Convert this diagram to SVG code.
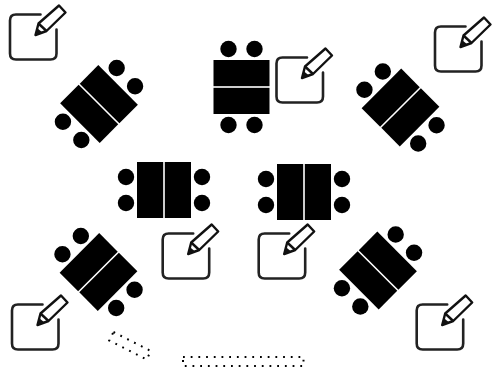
<svg xmlns="http://www.w3.org/2000/svg" width="496" height="370" viewBox="0 0 496 370">
<style>
.box{fill:none;stroke:#222;stroke-width:2.6;stroke-linecap:round}
.pen{fill:#fff;stroke:#111;stroke-width:2.4;stroke-linejoin:round}
.tip{fill:#111}
.dots{fill:none;stroke:#000;stroke-width:2;stroke-dasharray:1.8 5.9}
</style>
<defs>
<g id="table">
<rect x="-27" y="-28" width="26.2" height="56" fill="#000"/>
<rect x="0.8" y="-28" width="26.2" height="56" fill="#000"/>
<circle cx="-38" cy="-13" r="8.2" fill="#000"/>
<circle cx="-38" cy="13" r="8.2" fill="#000"/>
<circle cx="38" cy="-13" r="8.2" fill="#000"/>
<circle cx="38" cy="13" r="8.2" fill="#000"/>
</g>
<g id="note">
<path class="box" d="M40.500 14.500H16Q10 14.500 10 20.500V53.500Q10 59.500 16 59.500H50.500Q56.500 59.500 56.500 53.500V29.500"/>
<path class="pen" d="M35.500 35L38.500 23.500L59 5.500L65.500 12.500L46.500 31Z"/>
<path class="pen" d="M38.500 23.500L46.500 31"/>
<path class="tip" d="M35 35.500L37 28L42.500 32.500Z"/>
</g>
</defs>
<g id="connectors"/>
<g id="table-top"><use href="#table" transform="translate(241.500 87) rotate(90)"/></g>
<g id="table-top-left"><use href="#table" transform="translate(99 104) rotate(-45)"/></g>
<g id="table-top-right"><use href="#table" transform="translate(400.500 107.500) rotate(45)"/></g>
<g id="table-mid-left"><use href="#table" transform="translate(164 190)"/></g>
<g id="table-mid-right"><use href="#table" transform="translate(304 192)"/></g>
<g id="table-bottom-left"><use href="#table" transform="translate(98.500 272) rotate(45)"/></g>
<g id="table-bottom-right"><use href="#table" transform="translate(378 270.500) rotate(-45)"/></g>
<g id="note-1"><use href="#note"/></g>
<g id="note-2"><use href="#note" transform="translate(266.500 43)"/></g>
<g id="note-3"><use href="#note" transform="translate(425 12)"/></g>
<g id="note-4"><use href="#note" transform="translate(152.700 219)"/></g>
<g id="note-5"><use href="#note" transform="translate(248.700 219)"/></g>
<g id="note-6"><use href="#note" transform="translate(2 290)"/></g>
<g id="note-7"><use href="#note" transform="translate(406.700 290)"/></g>
<g id="dotted-1"><rect class="dots" x="0" y="0" width="42" height="9.500" transform="translate(113.500 332) rotate(27)"/></g>
<g id="dotted-2"><rect class="dots" x="183" y="357" width="120.500" height="9"/></g>
</svg>
